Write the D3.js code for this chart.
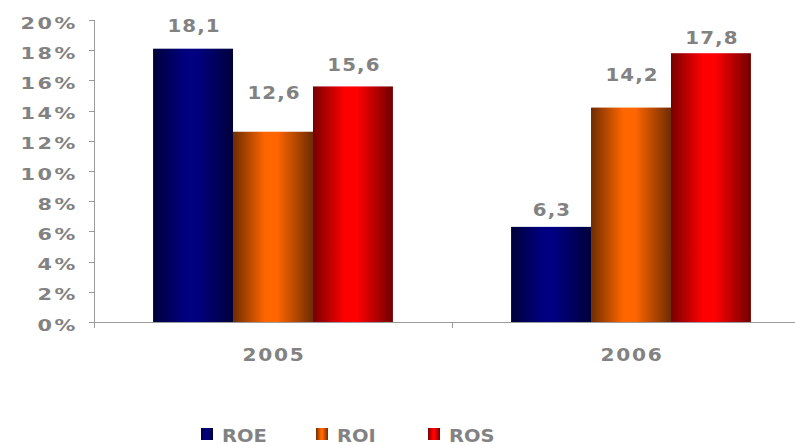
<!DOCTYPE html>
<html><head><meta charset="utf-8">
<script src="https://cdn.jsdelivr.net/npm/d3@7"></script>
<style>html,body{margin:0;padding:0;background:#fff;overflow:hidden}</style>
</head><body><svg id="c" width="795" height="445"></svg>
<script>
const categories = ["2005", "2006"];
const seriesNames = ["ROE", "ROI", "ROS"];
const ROE = [18.1, 6.3];
const ROI = [12.6, 14.2];
const ROS = [15.6, 17.8];
const valueLabels = [["18,1", "6,3"], ["12,6", "14,2"], ["15,6", "17,8"]];
const yTicks = [0, 2, 4, 6, 8, 10, 12, 14, 16, 18, 20];

// styling
const labelLift = [[17, 11], [33, 27], [15, 9]]; // px above bar top for value labels
const grads = [
  ["#00003a", "#000080", "#00003a"],
  ["#6e2c00", "#ff6600", "#6e2c00"],
  ["#780000", "#ff0000", "#700000"]
];
const textCol = "#828282", axisCol = "#9a9a9a";
const series = [ROE, ROI, ROS];

const svg = d3.select("#c");
const mLeft = 94, mBottom = 322, mTop = 20;
const y = d3.scaleLinear().domain([0, 20]).range([mBottom, mTop]);
const x0 = d3.scaleBand().domain(categories).range([mLeft, 810]).paddingInner(0.33).paddingOuter(0.165);
const x1 = d3.scaleBand().domain(seriesNames).range([0, x0.bandwidth()]);

const defs = svg.append("defs");
grads.forEach((g, i) => {
  const lg = defs.append("linearGradient").attr("id", "g" + i).attr("x1", 0).attr("x2", 1).attr("y1", 0).attr("y2", 0);
  lg.append("stop").attr("offset", "0%").attr("stop-color", g[0]);
  lg.append("stop").attr("offset", "40%").attr("stop-color", g[1]);
  lg.append("stop").attr("offset", "55%").attr("stop-color", g[1]);
  lg.append("stop").attr("offset", "100%").attr("stop-color", g[2]);
});

const font = "'DejaVu Sans', Verdana, sans-serif";
function stxt(sel, tx, ty, anchor, txt, size, sx, ls) {
  return sel.append("text").attr("transform", `translate(${tx},${ty}) scale(${sx},1)`)
    .attr("text-anchor", anchor).attr("font-family", font).attr("font-weight", "bold")
    .attr("letter-spacing", ls)
    .attr("font-size", size).attr("fill", textCol).text(txt);
}

// bars
series.forEach((vals, si) => {
  categories.forEach((c, ci) => {
    const bx = x0(c) + x1(seriesNames[si]);
    svg.append("rect").attr("x", bx).attr("y", y(vals[ci]))
      .attr("width", x1.bandwidth()).attr("height", y(0) - y(vals[ci]))
      .attr("fill", `url(#g${si})`);
    stxt(svg, bx + x1.bandwidth() / 2 + 1, y(vals[ci]) - labelLift[si][ci], "middle", valueLabels[si][ci], 18, 1.1, 1);
  });
});

// y axis
const ya = svg.append("g");
ya.append("line").attr("x1", mLeft + 0.5).attr("x2", mLeft + 0.5).attr("y1", y(20)).attr("y2", mBottom + 1).attr("stroke", axisCol);
yTicks.forEach(t => {
  ya.append("line").attr("x1", mLeft - 5).attr("x2", mLeft).attr("y1", Math.round(y(t)) + 0.5).attr("y2", Math.round(y(t)) + 0.5).attr("stroke", axisCol);
  stxt(ya, 78, y(t) + 8.5, "end", t + "%", 16, 1.3, 2);
});

// x axis
const xa = svg.append("g");
xa.append("line").attr("x1", mLeft).attr("x2", 810).attr("y1", mBottom + 0.5).attr("y2", mBottom + 0.5).attr("stroke", axisCol);
const bounds = [mLeft, x0.step() + mLeft];
bounds.forEach(b => xa.append("line").attr("x1", b + 0.5).attr("x2", b + 0.5).attr("y1", mBottom).attr("y2", mBottom + 6).attr("stroke", axisCol));
categories.forEach(c => stxt(xa, x0(c) + x0.bandwidth() / 2 + 1, 361, "middle", c, 18, 1.12, 1.5));

// legend
const legX = [201, 316, 428];
seriesNames.forEach((s, i) => {
  svg.append("rect").attr("x", legX[i]).attr("y", 428).attr("width", 12).attr("height", 12).attr("fill", `url(#g${i})`);
  stxt(svg, legX[i] + 21, 441.5, "start", s, 18, 1.08, 0);
});
</script></body></html>
